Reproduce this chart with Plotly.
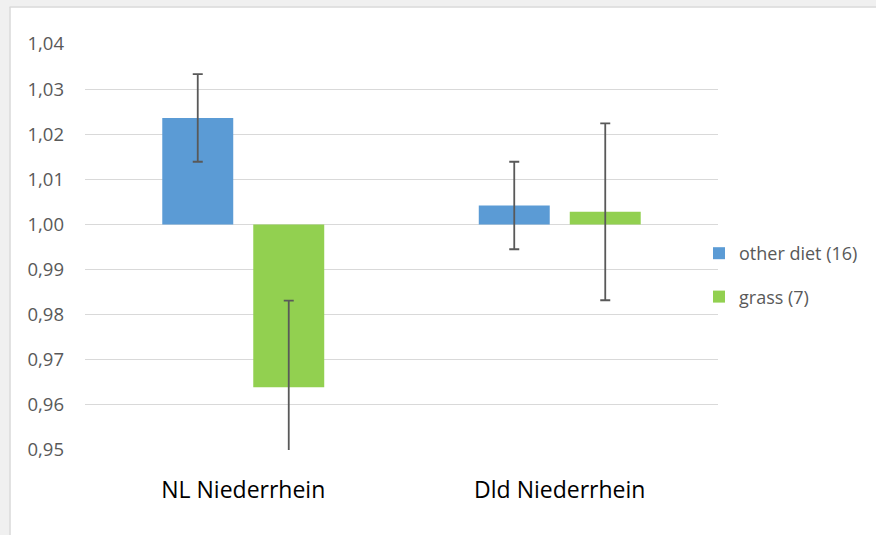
import plotly.graph_objects as go

categories = ["NL Niederrhein", "Dld Niederrhein"]
series_names = ["other diet (16)", "grass (7)"]
other_diet = [1.0236, 1.0042]
grass = [0.9639, 1.0028]
other_diet_err = [0.0097, 0.0097]
grass_err = [0.0192, 0.0196]
baseline = 1.0
colors = ["#5b9bd5", "#92d050"]

fig = go.Figure()
for name, vals, errs, col in [
    (series_names[0], other_diet, other_diet_err, colors[0]),
    (series_names[1], grass, grass_err, colors[1]),
]:
    fig.add_trace(go.Bar(
        x=categories,
        y=[v - baseline for v in vals],
        base=baseline,
        name=name,
        legendgroup=name,
        marker=dict(color=col, line=dict(width=0)),
        error_y=dict(type="data", array=errs, visible=True,
                     color="#595959", thickness=1.8, width=5),
    ))

W, H = 876, 535
L, R, T, B = 85, 158, 44, 85
pw, ph = W - L - R, H - T - B

def px(x):
    return (x - L) / pw

def py(y):
    return (H - B - y) / ph

shapes = [
    dict(type="rect", xref="paper", yref="paper", x0=px(-5), x1=px(W + 5), y0=py(-5), y1=py(6.5),
         fillcolor="#f0f0f0", line=dict(width=0), layer="below"),
    dict(type="rect", xref="paper", yref="paper", x0=px(-5), x1=px(9.5), y0=py(H + 5), y1=py(-5),
         fillcolor="#f0f0f0", line=dict(width=0), layer="below"),
    dict(type="line", xref="paper", yref="paper", x0=px(9.5), x1=px(W + 5), y0=py(7), y1=py(7),
         line=dict(color="#d9d9d9", width=1.5), layer="below"),
    dict(type="line", xref="paper", yref="paper", x0=px(10), x1=px(10), y0=py(7), y1=py(H + 5),
         line=dict(color="#d9d9d9", width=1.5), layer="below"),
]

fig.update_layout(
    width=W, height=H,
    margin=dict(l=L, r=R, t=T, b=B, autoexpand=False),
    paper_bgcolor="white", plot_bgcolor="white",
    separators=",.",
    barmode="group", bargap=0.425, bargroupgap=0.22,
    font=dict(family="Open Sans", color="#595959"),
    showlegend=True,
    legend=dict(x=px(699), xanchor="left", y=py(235), yanchor="top",
                font=dict(size=18, color="#595959"),
                traceorder="grouped", tracegroupgap=17,
                bgcolor="rgba(0,0,0,0)", itemwidth=30),
    shapes=shapes,
    xaxis=dict(showgrid=False, showline=False, zeroline=False, ticks="",
               tickfont=dict(size=23, color="#000000"), ticklabelstandoff=24),
    yaxis=dict(range=[0.95, 1.04], dtick=0.01, tick0=0.95, tickformat=".2f",
               showgrid=True, gridcolor="#d9d9d9", gridwidth=1,
               zeroline=False, showline=False, ticks="",
               tickfont=dict(size=18.5, color="#595959"), ticklabelstandoff=20),
)

fig.write_html("out.html", config={"displayModeBar": False},
               post_script="document.body.style.margin='0';document.body.style.overflow='hidden';")
